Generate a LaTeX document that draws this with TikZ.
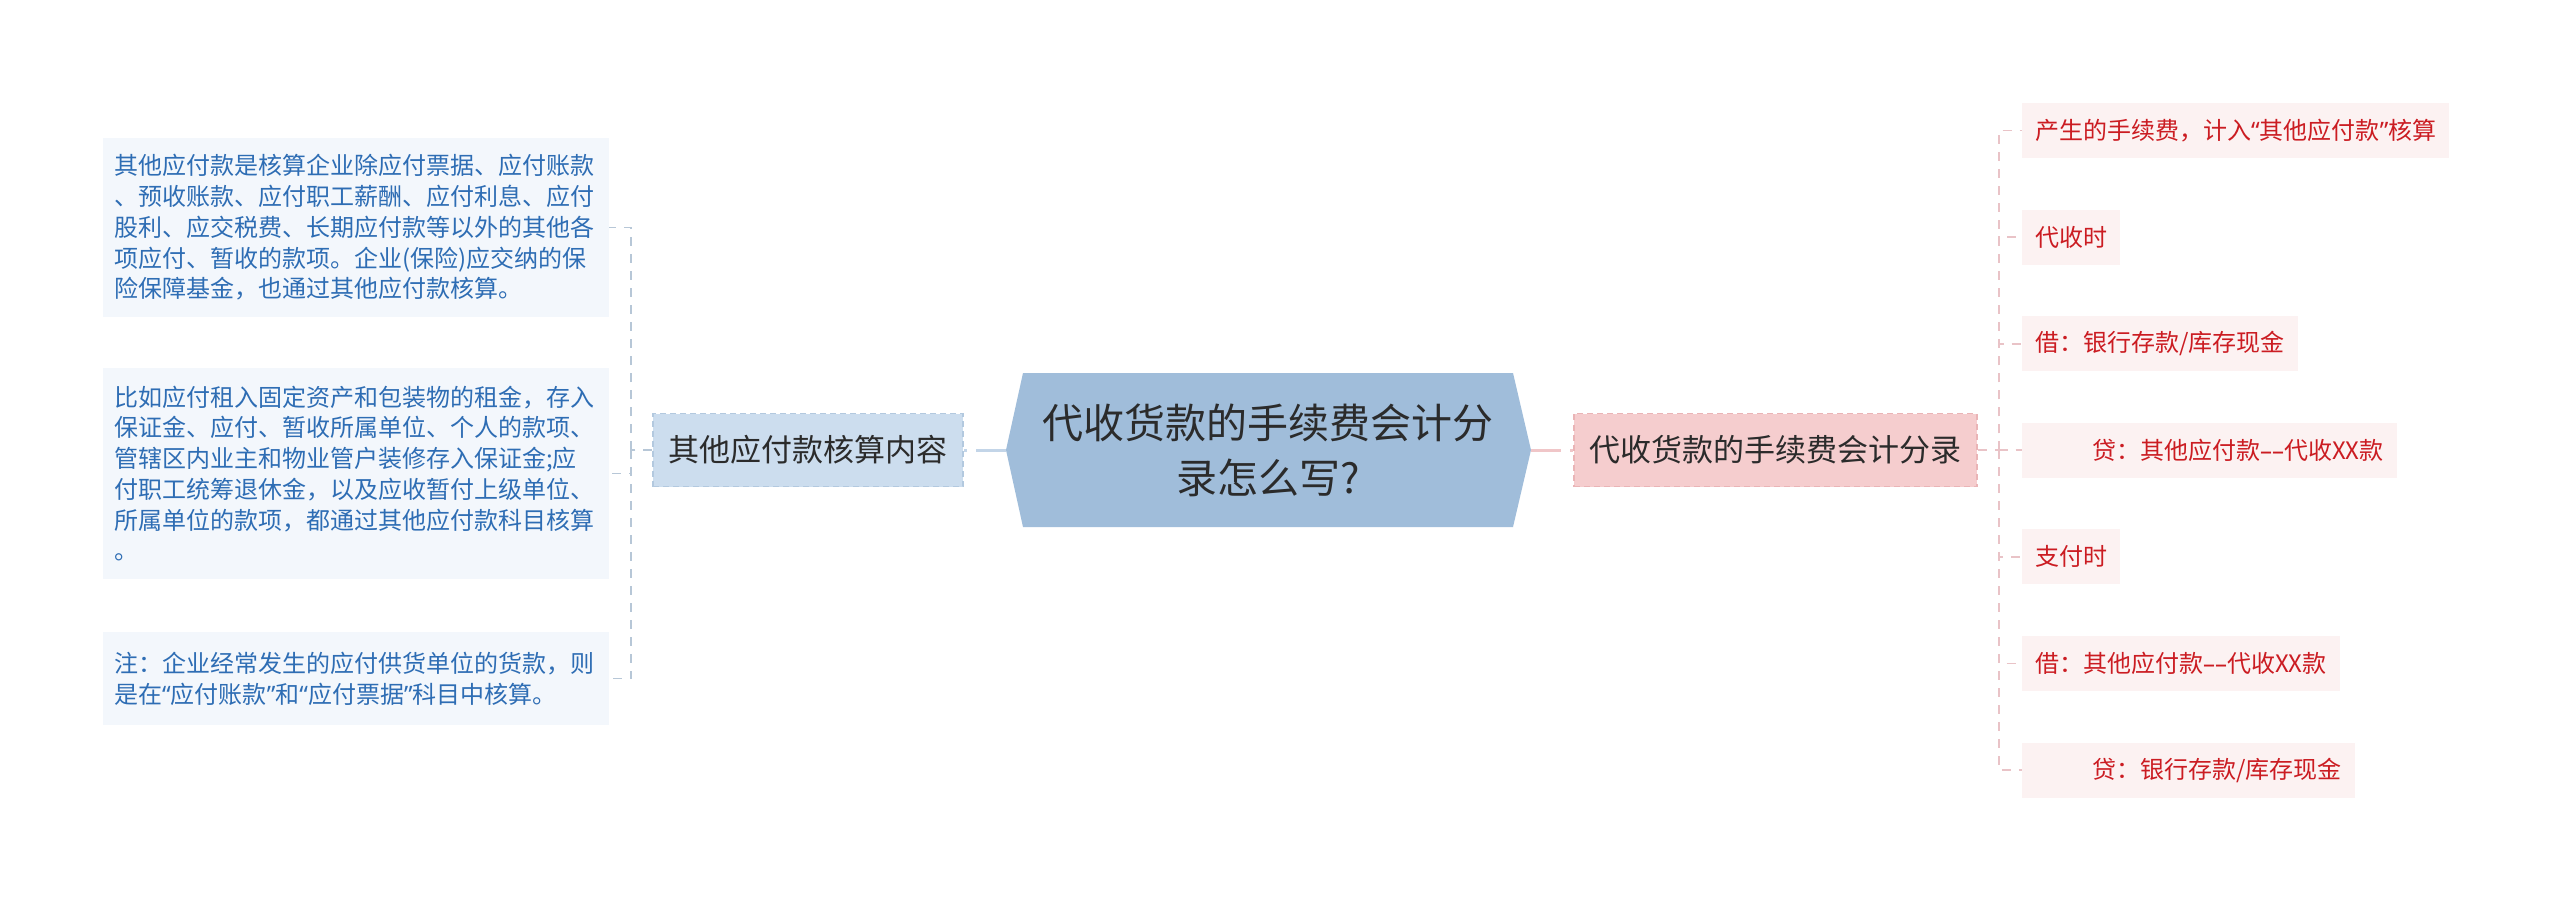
\documentclass[tikz,border=0pt]{standalone}
\usepackage{fontspec}
\setmainfont{Noto Sans CJK SC}
\newfontfamily\qfont{Noto Sans}
\newcommand{\myLQ}{{\qfont “}}
\newcommand{\myRQ}{{\qfont ”}}
\newcommand{\myDD}{{\qfont –{}–}}
\definecolor{hexfill}{HTML}{A0BDDA}
\definecolor{lbfill}{HTML}{CCDDEE}
\definecolor{lbline}{HTML}{B3C9DF}
\definecolor{rbfill}{HTML}{F5CDCE}
\definecolor{rbline}{HTML}{EAB4B6}
\definecolor{lleaf}{HTML}{F3F7FC}
\definecolor{ltext}{HTML}{2E6DB4}
\definecolor{rleaf}{HTML}{FCF2F2}
\definecolor{rtext}{HTML}{CB1C22}
\definecolor{lconn}{HTML}{B7C7D7}
\definecolor{rconn}{HTML}{E9C3C7}
\definecolor{lmain}{HTML}{C3D5E8}
\definecolor{rmain}{HTML}{F0C6C8}
\definecolor{darktext}{HTML}{2B2B2B}
\tikzset{
  leafL/.style={fill=lleaf, text=ltext, font=\fontsize{24}{30.75}\selectfont,
    text width=484pt, align=left, inner xsep=11pt, inner ysep=0pt, anchor=west},
  leafR/.style={fill=rleaf, text=rtext, font=\fontsize{24}{30.75}\selectfont,
    inner xsep=13pt, inner ysep=0pt, minimum height=55pt, anchor=west},
  branchbox/.style={line width=1.5pt, dash pattern=on 6pt off 4pt, text=darktext,
    font=\fontsize{31}{37}\selectfont, minimum height=73pt, inner sep=0pt},
  mainconn/.style={line width=3pt, dash pattern=on 30pt off 9pt},
  leafconnL/.style={draw=lconn, line width=1.7pt, dash pattern=on 9pt off 8pt},
  leafconnR/.style={draw=rconn, line width=1.7pt, dash pattern=on 9pt off 8pt},
}
\begin{document}
\begin{tikzpicture}[x=1pt,y=-1pt]
\useasboundingbox (0,0) rectangle (2560,901);
\fill[white] (0,0) rectangle (2560,901);

% central topic
\fill[hexfill] (1006,450) -- (1023,373) -- (1513,373) -- (1531,450) -- (1513,527) -- (1023,527) -- cycle;
\coordinate (cW) at (1006,450);
\coordinate (cE) at (1531,450);
\node[font=\fontsize{41}{55}\selectfont, text=darktext, align=center] (c) at (1268,450)
  {代收货款的手续费会计分\\录怎么写?};

% branches
\node[branchbox, fill=lbfill, draw=lbline, minimum width=310pt] (lb) at (808,450) {其他应付款核算内容};
\node[branchbox, fill=rbfill, draw=rbline, minimum width=403pt] (rb) at (1775.5,450) {代收货款的手续费会计分录};

\draw[mainconn, draw=lmain] (cW) -- (lb.east);
\draw[mainconn, draw=rmain] (cE) -- (rb.west);

% left leaves
\node[leafL, minimum height=179pt] (L1) at (103,227.5) {其他应付款是核算企业除应付票据、应付账款\\
、预收账款、应付职工薪酬、应付利息、应付\\
股利、应交税费、长期应付款等以外的其他各\\
项应付、暂收的款项。企业(保险)应交纳的保\\
险保障基金，也通过其他应付款核算。};
\node[leafL, minimum height=211pt] (L2) at (103,473.5) {比如应付租入固定资产和包装物的租金，存入\\
保证金、应付、暂收所属单位、个人的款项、\\
管辖区内业主和物业管户装修存入保证金;应\\
付职工统筹退休金，以及应收暂付上级单位、\\
所属单位的款项，都通过其他应付款科目核算\\
。};
\node[leafL, minimum height=93pt] (L3) at (103,678.5) {注：企业经常发生的应付供货单位的货款，则\\
是在\myLQ 应付账款\myRQ 和\myLQ 应付票据\myRQ 科目中核算。};

\coordinate (lj) at (631,450);
\draw[leafconnL] (lb.west) -- (lj);
\draw[leafconnL] (lj) |- (L1.east);
\draw[leafconnL] (lj) |- (L2.east);
\draw[leafconnL] (lj) |- (L3.east);

% right leaves
\node[leafR] (R1) at (2022,130.5) {产生的手续费，计入\myLQ 其他应付款\myRQ 核算};
\node[leafR] (R2) at (2022,237.1) {代收时};
\node[leafR] (R3) at (2022,343.7) {借：银行存款/库存现金};
\node[leafR] (R4) at (2022,450.3) {\hspace*{57pt}贷：其他应付款\myDD 代收XX款};
\node[leafR] (R5) at (2022,556.9) {支付时};
\node[leafR] (R6) at (2022,663.5) {借：其他应付款\myDD 代收XX款};
\node[leafR] (R7) at (2022,770.1) {\hspace*{57pt}贷：银行存款/库存现金};

\coordinate (rj) at (1999,450);
\draw[leafconnR] (rb.east) -- (rj);
\foreach \n in {R1,R2,R3,R4,R5,R6,R7}{
  \draw[leafconnR] (rj) |- (\n.west);
}
\end{tikzpicture}
\end{document}
